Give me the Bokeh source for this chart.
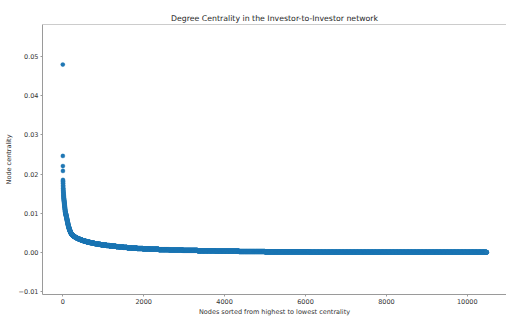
import numpy as np
from bokeh.plotting import figure
from bokeh.models import Range1d, FixedTicker, CustomJSTickFormatter, Span, ColumnDataSource
from bokeh.embed import file_html
from bokeh.resources import INLINE

# Degrees of the most connected investors
top_degrees = [502, 258, 231, 218, 194, 191,
               189, 185, 180, 176, 172, 170, 167, 165, 163, 161, 159, 157,
               155, 153, 152, 150, 149, 148, 146, 145, 144, 143, 142, 141,
               140, 139, 138, 137, 136, 135, 134, 133, 132, 131, 130, 129,
               128, 127, 126, 125, 124, 123, 122, 121, 120, 119, 118, 117,
               116, 115, 114, 113, 112, 111, 110, 110, 109, 108, 108, 107,
               106, 106, 105, 105, 104, 104, 104, 103, 103, 102, 102, 102,
               101, 101]

# Degree distribution for the remaining nodes: degree -> number of nodes
tail_degrees = [1, 2, 3, 4, 5, 6, 7, 8, 9, 10,
                11, 12, 13, 14, 15, 16, 17, 18, 19, 20,
                21, 22, 23, 24, 25, 26, 27, 28, 29, 30,
                31, 32, 33, 34, 35, 36, 37, 38, 39, 40,
                41, 42, 43, 44, 45, 46, 47, 48, 49, 50,
                51, 52, 53, 54, 55, 56, 57, 58, 59, 60,
                61, 62, 63, 64, 65, 66, 67, 68, 69, 70,
                71, 72, 73, 74, 75, 76, 77, 78, 79, 80,
                81, 82, 83, 84, 85, 86, 87, 88, 89, 90,
                91, 92, 93, 94, 95, 96, 97, 98, 99, 100]
tail_counts = [4380, 1100, 650, 580, 440, 370, 320, 270, 220, 170,
               150, 130, 110, 100, 90, 85, 80, 80, 78, 77,
               60, 55, 52, 48, 45, 43, 40, 38, 36, 33,
               30, 28, 26, 25, 23, 22, 21, 20, 18, 17,
               15, 14, 13, 12, 11, 10, 10, 9, 8, 8,
               5, 5, 5, 4, 4, 4, 4, 4, 3, 3,
               3, 3, 3, 3, 3, 3, 3, 3, 3, 3,
               2, 2, 2, 2, 2, 2, 2, 2, 2, 2,
               2, 2, 2, 2, 2, 2, 2, 2, 2, 2,
               2, 2, 2, 2, 2, 2, 2, 2, 2, 2]

x_ticks = [0, 2000, 4000, 6000, 8000, 10000]
y_ticks = [-0.01, 0.0, 0.01, 0.02, 0.03, 0.04, 0.05]

title_text = "Degree Centrality in the Investor-to-Investor network"
x_label = "Nodes sorted from highest to lowest centrality"
y_label = "Node centrality"

degrees = list(top_degrees)
for d, c in zip(tail_degrees, tail_counts):
    degrees += [d] * c
degrees = sorted(degrees, reverse=True)
n = len(degrees)
centrality = [d / (n - 1) for d in degrees]
rank = list(range(n))

src = ColumnDataSource(dict(x=rank, y=centrality))

FONT = "DejaVu Sans"
SPINE = "#9a9a9a"
TEXT = "#333333"

p = figure(width=506, height=318, output_backend="svg", toolbar_location=None,
           x_range=Range1d(-502, 10969), y_range=Range1d(-0.01066, 0.0581),
           min_border_left=42, min_border_right=0, min_border_top=24,
           min_border_bottom=21, title=title_text)
p.title.text_font = FONT
p.title.text_font_size = "7.8px"
p.title.text_font_style = "normal"
p.title.text_color = "#262626"
p.title.align = "center"
p.title.standoff = 4

p.scatter("x", "y", source=src, size=4.2, fill_color="#1f77b4",
          line_color="#1f77b4", line_width=0.3)

p.xgrid.visible = False
p.ygrid.visible = False
p.outline_line_color = None
p.background_fill_color = "white"
p.border_fill_color = "white"

for ax in [p.xaxis[0], p.yaxis[0]]:
    ax.axis_line_color = SPINE
    ax.axis_line_width = 1
    ax.major_tick_line_color = SPINE
    ax.major_tick_out = 2
    ax.major_tick_in = 0
    ax.minor_tick_out = 0
    ax.minor_tick_in = 0
    ax.major_label_text_font = FONT
    ax.major_label_text_font_size = "6.5px"
    ax.major_label_text_color = TEXT
    ax.axis_label_text_font = FONT
    ax.axis_label_text_font_size = "6.5px"
    ax.axis_label_text_font_style = "normal"
    ax.axis_label_text_color = TEXT

p.xaxis[0].major_label_standoff = 2
p.xaxis[0].axis_label_standoff = 1
p.yaxis[0].major_label_standoff = 2
p.yaxis[0].axis_label_standoff = 3

p.xaxis[0].ticker = FixedTicker(ticks=x_ticks)
p.yaxis[0].ticker = FixedTicker(ticks=y_ticks)
p.xaxis[0].axis_label = x_label
p.yaxis[0].axis_label = y_label
p.yaxis[0].formatter = CustomJSTickFormatter(
    code="return (tick < -1e-12 ? '\\u2212' : '') + Math.abs(tick).toFixed(2);")

top_spine = Span(location=0.0581, dimension="width", line_color=SPINE, line_width=1)
p.add_layout(top_spine)

open("out.html", "w").write(file_html(p, INLINE))
